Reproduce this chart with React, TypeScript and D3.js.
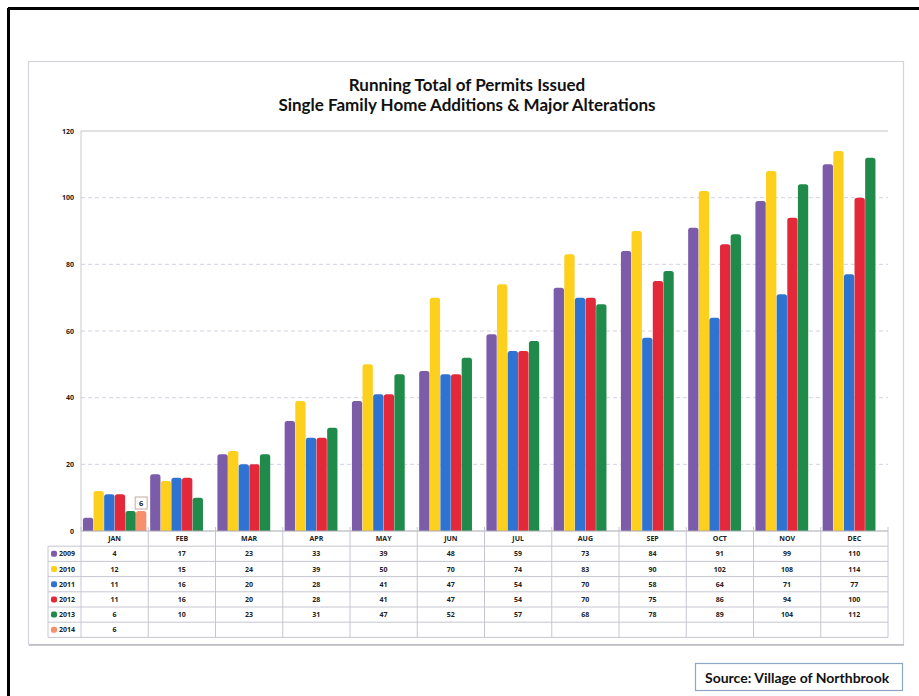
import React from "react";
import * as d3 from "d3";

// Monthly running totals of permits, one array per year
const months = ["JAN", "FEB", "MAR", "APR", "MAY", "JUN", "JUL", "AUG", "SEP", "OCT", "NOV", "DEC"];
const years = ["2009", "2010", "2011", "2012", "2013", "2014"];
const s2009 = [4, 17, 23, 33, 39, 48, 59, 73, 84, 91, 99, 110];
const s2010 = [12, 15, 24, 39, 50, 70, 74, 83, 90, 102, 108, 114];
const s2011 = [11, 16, 20, 28, 41, 47, 54, 70, 58, 64, 71, 77];
const s2012 = [11, 16, 20, 28, 41, 47, 54, 70, 75, 86, 94, 100];
const s2013 = [6, 10, 23, 31, 47, 52, 57, 68, 78, 89, 104, 112];
const s2014: (number | null)[] = [6, null, null, null, null, null, null, null, null, null, null, null];
const yTicks = [0, 20, 40, 60, 80, 100, 120];
const colors = ["#7b5ca8", "#fcd01c", "#2f73d2", "#e3283a", "#1f8a4a", "#f7906a"];
const titleLines = ["Running Total of Permits Issued", "Single Family Home Additions & Major Alterations"];
const sourceText = "Source: Village of Northbrook";

const series: (number | null)[][] = [s2009, s2010, s2011, s2012, s2013, s2014];

function topRounded(x: number, y: number, w: number, h: number, r: number) {
  const rr = Math.min(r, w / 2, h);
  return `M${x},${y + h}V${y + rr}Q${x},${y} ${x + rr},${y}H${x + w - rr}Q${x + w},${y} ${x + w},${y + rr}V${y + h}Z`;
}

export default function App() {
  const W = 919;
  const H = 696;
  const left = 81;
  const right = 888;
  const plotTop = 131;
  const plotBottom = 531;
  const rowH = 15.2;
  const labelLeft = 48;

  const x0 = d3.scaleBand<string>().domain(months).range([left, right]);
  const x1 = d3
    .scaleBand<string>()
    .domain(years)
    .range([0, x0.bandwidth()])
    .paddingOuter(0.18)
    .paddingInner(0.03);
  const y = d3.scaleLinear().domain([0, 120]).range([plotBottom, plotTop]);

  const font = "'Open Sans', 'Noto Sans', sans-serif";
  const tableTop = plotBottom;
  const tableBottom = tableTop + rowH * 7;

  return (
    <svg
      width={W}
      height={H}
      viewBox={`0 0 ${W} ${H}`}
      style={{ position: "absolute", left: 0, top: 0, background: "#fff" }}
    >
      <rect x={0} y={0} width={W} height={H} fill="#fff" />
      {/* page frame */}
      <line x1={8} y1={8.5} x2={W} y2={8.5} stroke="#000" strokeWidth={3} />
      <line x1={8.5} y1={8} x2={8.5} y2={H} stroke="#000" strokeWidth={3} />

      {/* chart frame */}
      <rect x={28.5} y={61.5} width={875} height={583} fill="#fff" stroke="#d4d4dc" strokeWidth={1.2} />
      <line x1={29} y1={645} x2={904} y2={645} stroke="#b8b8c0" strokeWidth={1.5} />

      {/* title */}
      {titleLines.map((t, i) => (
        <text
          key={t}
          x={467}
          y={91 + i * 19.5}
          textAnchor="middle"
          fontFamily="Lato, 'Open Sans', sans-serif"
          fontWeight={700}
          fontSize={17}
          fill="#111"
        >
          {t}
        </text>
      ))}

      {/* gridlines */}
      {yTicks.slice(1).map((t) => (
        <line
          key={t}
          x1={left}
          x2={right}
          y1={y(t)}
          y2={y(t)}
          stroke={t === 120 ? "#c4c4c8" : "#d6d0e2"}
          strokeWidth={1}
          strokeDasharray={t === 120 ? undefined : "4 3"}
        />
      ))}
      {yTicks.map((t) => (
        <text
          key={t}
          x={74}
          y={y(t) + 2.5}
          textAnchor="end"
          fontFamily={font}
          fontWeight={700}
          fontSize={7}
          fill="#222"
        >
          {t}
        </text>
      ))}
      <line x1={left} x2={left} y1={plotTop} y2={plotBottom} stroke="#c8c8cc" />

      {/* bars */}
      {months.map((m, mi) =>
        series.map((s, si) => {
          const v = s[mi];
          if (v == null) return null;
          const bx = (x0(m) ?? 0) + (x1(years[si]) ?? 0);
          const by = y(v);
          return (
            <path
              key={`${m}-${si}`}
              d={topRounded(bx, by, x1.bandwidth(), plotBottom - by, 2.5)}
              fill={colors[si]}
            />
          );
        })
      )}

      {/* value label on the 2014 bar */}
      {s2014.map((v, mi) => {
        if (v == null) return null;
        const cx = (x0(months[mi]) ?? 0) + (x1("2014") ?? 0) + x1.bandwidth() / 2;
        const top = y(v);
        return (
          <g key={`lbl-${mi}`}>
            <rect x={cx - 6} y={top - 14} width={12} height={12} fill="#fff" stroke="#c9a9a2" strokeWidth={1} />
            <text x={cx} y={top - 5.5} textAnchor="middle" fontFamily={font} fontWeight={700} fontSize={7.5} fill="#222">
              {v}
            </text>
          </g>
        );
      })}

      {/* data table */}
      <g stroke="#c6c6d2" strokeWidth={1} fill="none">
        <line x1={left} x2={right} y1={tableTop} y2={tableTop} stroke="#a8a8b0" />
        {d3.range(1, 8).map((r) => (
          <line key={`h${r}`} x1={labelLeft} x2={right} y1={tableTop + r * rowH} y2={tableTop + r * rowH} />
        ))}
        <line x1={labelLeft} x2={labelLeft} y1={tableTop + rowH} y2={tableBottom} />
        {months.map((m) => (
          <line key={`v${m}`} x1={x0(m) ?? 0} x2={x0(m) ?? 0} y1={tableTop - 4} y2={tableBottom} />
        ))}
        <line x1={right} x2={right} y1={tableTop - 4} y2={tableBottom} />
      </g>
      {months.map((m) => (
        <text
          key={`m${m}`}
          x={(x0(m) ?? 0) + x0.bandwidth() / 2}
          y={tableTop + rowH / 2 + 2.5}
          textAnchor="middle"
          fontFamily={font}
          fontWeight={700}
          fontSize={7}
          fill="#222"
        >
          {m}
        </text>
      ))}
      {years.map((yr, si) => {
        const cy = tableTop + (si + 1) * rowH + rowH / 2;
        return (
          <g key={`row${yr}`}>
            <rect x={labelLeft + 3} y={cy - 3} width={6} height={6} rx={2} fill={colors[si]} />
            <text x={labelLeft + 11} y={cy + 2.5} fontFamily={font} fontWeight={700} fontSize={7} fill="#222">
              {yr}
            </text>
            {months.map((m, mi) => {
              const v = series[si][mi];
              if (v == null) return null;
              return (
                <text
                  key={`${yr}-${m}`}
                  x={(x0(m) ?? 0) + x0.bandwidth() / 2}
                  y={cy + 2.5}
                  textAnchor="middle"
                  fontFamily={font}
                  fontWeight={700}
                  fontSize={7}
                  fill="#222"
                >
                  {v}
                </text>
              );
            })}
          </g>
        );
      })}

      {/* source box */}
      <rect x={695.5} y={663.5} width={207} height={27} fill="#fff" stroke="#8ea6c6" strokeWidth={1.2} />
      <text x={705} y={682.5} fontFamily="Lato, 'Open Sans', sans-serif" fontWeight={700} fontSize={14} fill="#111">
        {sourceText}
      </text>
    </svg>
  );
}
